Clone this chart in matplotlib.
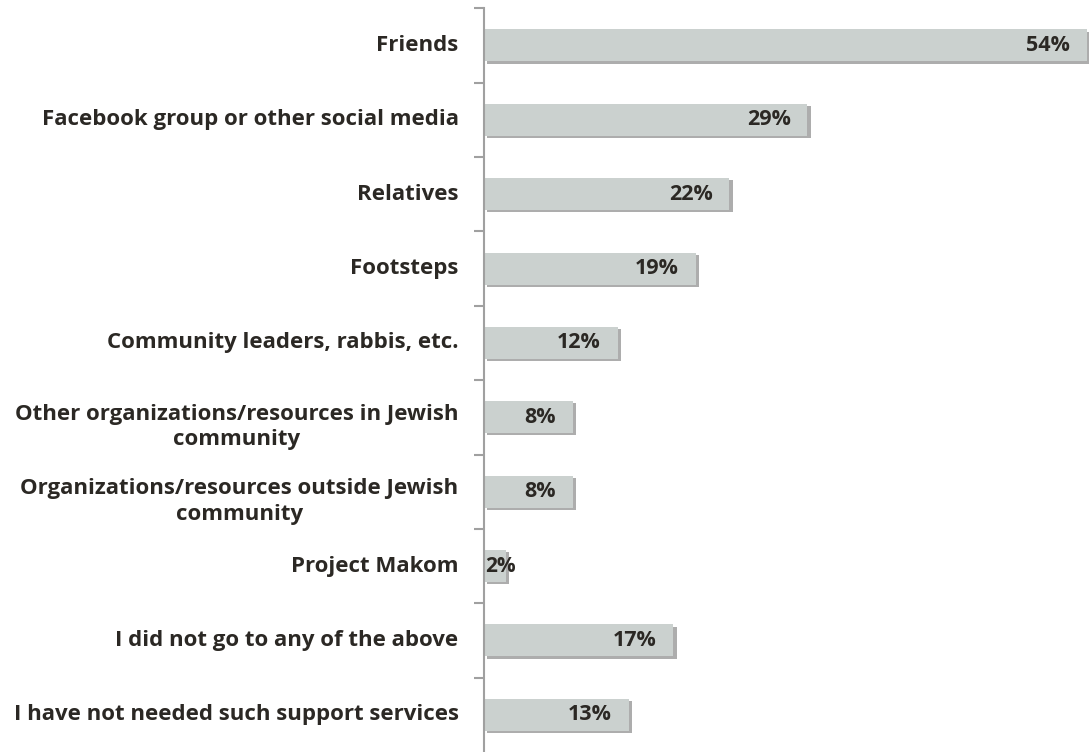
import numpy as np
import matplotlib.pyplot as plt
import matplotlib.patheffects as pe

# categories top to bottom and their shares (%)
categories = [
    "Friends",
    "Facebook group or other social media",
    "Relatives",
    "Footsteps",
    "Community leaders, rabbis, etc.",
    "Other organizations/resources in Jewish\ncommunity",
    "Organizations/resources outside Jewish\ncommunity",
    "Project Makom",
    "I did not go to any of the above",
    "I have not needed such support services",
]
values = [54, 29, 22, 19, 12, 8, 8, 2, 17, 13]

plt.rcParams['font.family'] = ['Open Sans', 'DejaVu Sans']

fig = plt.figure(figsize=(10.89, 7.52), dpi=100)
ax = fig.add_axes([0.444, 0.0, 0.556, 0.989])

y = np.arange(len(categories))
shadow = [pe.SimplePatchShadow(offset=(2.5, -1.5), shadow_rgbFace='#6a6a6a', alpha=0.55), pe.Normal()]
bars = ax.barh(y, values, height=0.43, color='#cbd1cf', edgecolor='none', zorder=2)
for b in bars:
    b.set_path_effects(shadow)

ax.set_ylim(len(categories) - 0.5, -0.5)
ax.set_xlim(0, 54.2)

# value labels at the inside end of each bar
for yi, v in zip(y, values):
    if v >= 5:
        ax.annotate(f"{v}%", (v, yi), xytext=(-12, 0), textcoords='offset points',
                    ha='right', va='center', fontsize=15.5, fontweight='bold',
                    color='#2b2824', zorder=3)
    else:
        ax.annotate(f"{v}%", (0, yi), xytext=(1, 0), textcoords='offset points',
                    ha='left', va='center', fontsize=15, fontweight='bold',
                    color='#2b2824', zorder=3)

# category labels
ax.set_yticks(y)
ax.set_yticklabels([])
ax.tick_params(axis='y', length=0)
for yi, c in zip(y, categories):
    ax.annotate(c, (0, yi), xytext=(-18, -7 if "\n" in c else 0), textcoords='offset points',
                ha='right', va='center', multialignment='center',
                fontsize=16, fontweight='bold', color='#2b2824',
                linespacing=1.3, annotation_clip=False)

# tick marks between categories
ax.set_yticks(np.arange(-0.5, len(categories) - 0.5, 1), minor=True)
ax.tick_params(axis='y', which='minor', length=7, width=1.5, color='#a0a0a0', direction='out')

ax.set_xticks([])
for s in ['top', 'right', 'bottom']:
    ax.spines[s].set_visible(False)
ax.spines['left'].set_color('#a0a0a0')
ax.spines['left'].set_linewidth(1.5)

fig.savefig('out.png', dpi=100)
